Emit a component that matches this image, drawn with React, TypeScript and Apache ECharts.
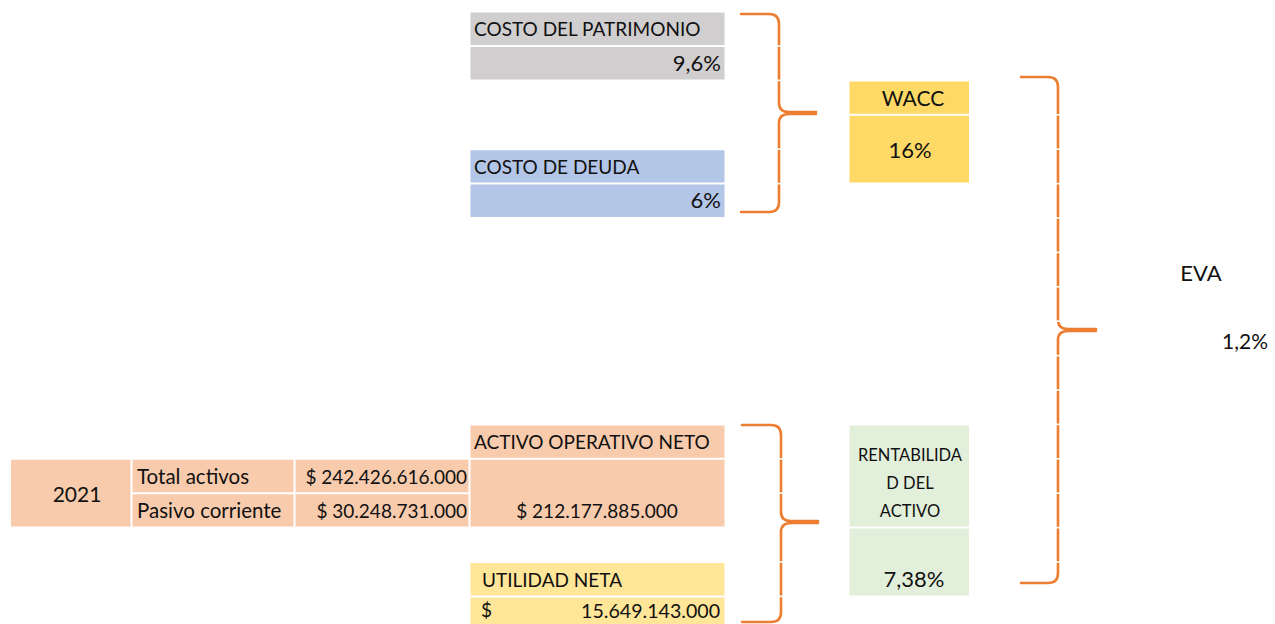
import React, { useEffect, useRef } from "react";
import * as echarts from "echarts";

// ---- content ----
const costLabels = ["COSTO DEL PATRIMONIO", "COSTO DE DEUDA"];
const costValues = ["9,6%", "6%"];
const waccLabel = "WACC";
const waccValue = "16%";
const yearLabel = "2021";
const balanceLabels = ["Total activos", "Pasivo corriente"];
const balanceValues = ["$ 242.426.616.000", "$ 30.248.731.000"];
const aonLabel = "ACTIVO OPERATIVO NETO";
const aonValue = "$ 212.177.885.000";
const utilidadLabel = "UTILIDAD NETA";
const utilidadCurrency = "$";
const utilidadValue = "15.649.143.000";
const roaLabelLines = ["RENTABILIDA", "D DEL", "ACTIVO"];
const roaValue = "7,38%";
const evaLabel = "EVA";
const evaValue = "1,2%";

// ---- layout ----
const ROW0 = 11.6;
const ROWH = 34.4;
const rowTop = (i: number) => ROW0 + i * ROWH;
const COLS = [10, 131.5, 294.5, 469.5, 725.5, 848.5, 970];
const FONT = "Lato, 'Open Sans', sans-serif";
const ORANGE = "#ED7D31";

const braces = [
  { x0: 741, top: 14, bottom: 212, vx: 779, tipX: 816, tipY: 113 },
  { x0: 1021, top: 77, bottom: 583, vx: 1058, tipX: 1096, tipY: 330 },
  { x0: 742, top: 425, bottom: 622, vx: 781, tipX: 818, tipY: 522 },
];

function bracePath(b: any) {
  const r = 10;
  return [
    `M ${b.x0} ${b.top} L ${b.vx - r} ${b.top} Q ${b.vx} ${b.top} ${b.vx} ${b.top + r}`,
    `L ${b.vx} ${b.tipY - r} Q ${b.vx} ${b.tipY - 1} ${b.vx + r} ${b.tipY - 1} L ${b.tipX} ${b.tipY - 1}`,
    `M ${b.tipX} ${b.tipY + 1} L ${b.vx + r} ${b.tipY + 1} Q ${b.vx} ${b.tipY + 1} ${b.vx} ${b.tipY + r}`,
    `L ${b.vx} ${b.bottom - r} Q ${b.vx} ${b.bottom} ${b.vx - r} ${b.bottom} L ${b.x0} ${b.bottom}`,
  ].join(" ");
}

function cell(c0: number, c1: number, r0: number, r1: number, fill: string) {
  const x = COLS[c0] + 1;
  const y = rowTop(r0) + 1;
  return {
    type: "rect",
    shape: { x, y, width: COLS[c1] - COLS[c0] - 2, height: rowTop(r1) - rowTop(r0) - 2 },
    style: { fill },
    silent: true,
  };
}

function txt(text: string, x: number, y: number, align: string, size = 19) {
  return {
    type: "text",
    style: {
      text,
      x,
      y,
      fill: "#111",
      font: `${size}px ${FONT}`,
      align,
      verticalAlign: "middle",
      textAlign: align,
      textVerticalAlign: "middle",
    },
    silent: true,
  };
}

export default function App() {
  const ref = useRef<HTMLDivElement>(null);
  useEffect(() => {
    document.body.style.margin = "0";
    braces.forEach((b, i) => {
      echarts.graphic.registerShape("brace" + i, echarts.graphic.extendPath(bracePath(b), {}) as any);
    });
    const chart = echarts.init(ref.current!, null, { renderer: "svg" });
    const els: any[] = [];
    // cells
    els.push(cell(3, 4, 0, 1, "#D0CECE"));
    els.push(cell(3, 4, 1, 2, "#D0CECE"));
    els.push(cell(3, 4, 4, 5, "#B4C6E7"));
    els.push(cell(3, 4, 5, 6, "#B4C6E7"));
    els.push(cell(5, 6, 2, 3, "#FFD966"));
    els.push(cell(5, 6, 3, 5, "#FFD966"));
    els.push(cell(3, 4, 12, 13, "#F8CBAD"));
    els.push(cell(3, 4, 13, 15, "#F8CBAD"));
    els.push(cell(0, 1, 13, 15, "#F8CBAD"));
    els.push(cell(1, 2, 13, 14, "#F8CBAD"));
    els.push(cell(1, 2, 14, 15, "#F8CBAD"));
    els.push(cell(2, 3, 13, 14, "#F8CBAD"));
    els.push(cell(2, 3, 14, 15, "#F8CBAD"));
    els.push(cell(5, 6, 12, 15, "#E2EFDA"));
    els.push(cell(5, 6, 15, 17, "#E2EFDA"));
    els.push(cell(3, 4, 16, 17, "#FFE699"));
    els.push(cell(3, 4, 17, 18, "#FFE699"));

    // braces
    braces.forEach((b, i) => {
      els.push({
        type: "brace" + i,
        style: { fill: null, stroke: ORANGE, lineWidth: 2.6, lineCap: "round", lineJoin: "round" },
        silent: true,
      });
      for (let r = 0; r < 19; r++) {
        const y = rowTop(r);
        if (y > b.top + 8 && y < b.bottom - 8 && Math.abs(y - b.tipY) > 8) {
          els.push({
            type: "rect",
            shape: { x: b.vx - 4, y: y - 0.8, width: 8, height: 1.6 },
            style: { fill: "#fff" },
            silent: true,
          });
        }
      }
    });

    // texts
    const mid = (r0: number, r1: number) => (rowTop(r0) + rowTop(r1)) / 2;
    els.push(txt(costLabels[0], 474, mid(0, 1), "left"));
    els.push(txt(costValues[0], 721, mid(1, 2) - 1, "right", 22));
    els.push(txt(costLabels[1], 474, mid(4, 5), "left"));
    els.push(txt(costValues[1], 721, mid(5, 6) - 1, "right", 22));
    els.push(txt(waccLabel, 913, mid(2, 3), "center", 21));
    els.push(txt(waccValue, 910, mid(3, 5), "center", 22));
    els.push(txt(aonLabel, 474, mid(12, 13), "left"));
    els.push(txt(aonValue, 597, mid(14, 15), "center"));
    els.push(txt(yearLabel, 77, mid(13, 15), "center", 21));
    els.push(txt(balanceLabels[0], 137, mid(13, 14), "left", 20.5));
    els.push(txt(balanceLabels[1], 137, mid(14, 15), "left", 20.5));
    els.push(txt(balanceValues[0], 467, mid(13, 14), "right"));
    els.push(txt(balanceValues[1], 467, mid(14, 15), "right"));
    els.push(txt(utilidadLabel, 482, mid(16, 17), "left"));
    els.push(txt(utilidadCurrency, 481, 609, "left", 19));
    els.push(txt(utilidadValue, 720, 610, "right", 19.6));
    const roaY = [455, 483, 511];
    roaLabelLines.forEach((l, i) => els.push(txt(l, 910, roaY[i], "center", 16.5)));
    els.push(txt(roaValue, 914, 578, "center", 22));
    els.push(txt(evaLabel, 1201, 272, "center", 22));
    els.push(txt(evaValue, 1268, 340, "right", 21));

    chart.setOption({ animation: false, graphic: { elements: els } });
    return () => chart.dispose();
  }, []);
  return <div ref={ref} style={{ width: 1275, height: 624 }} />;
}
